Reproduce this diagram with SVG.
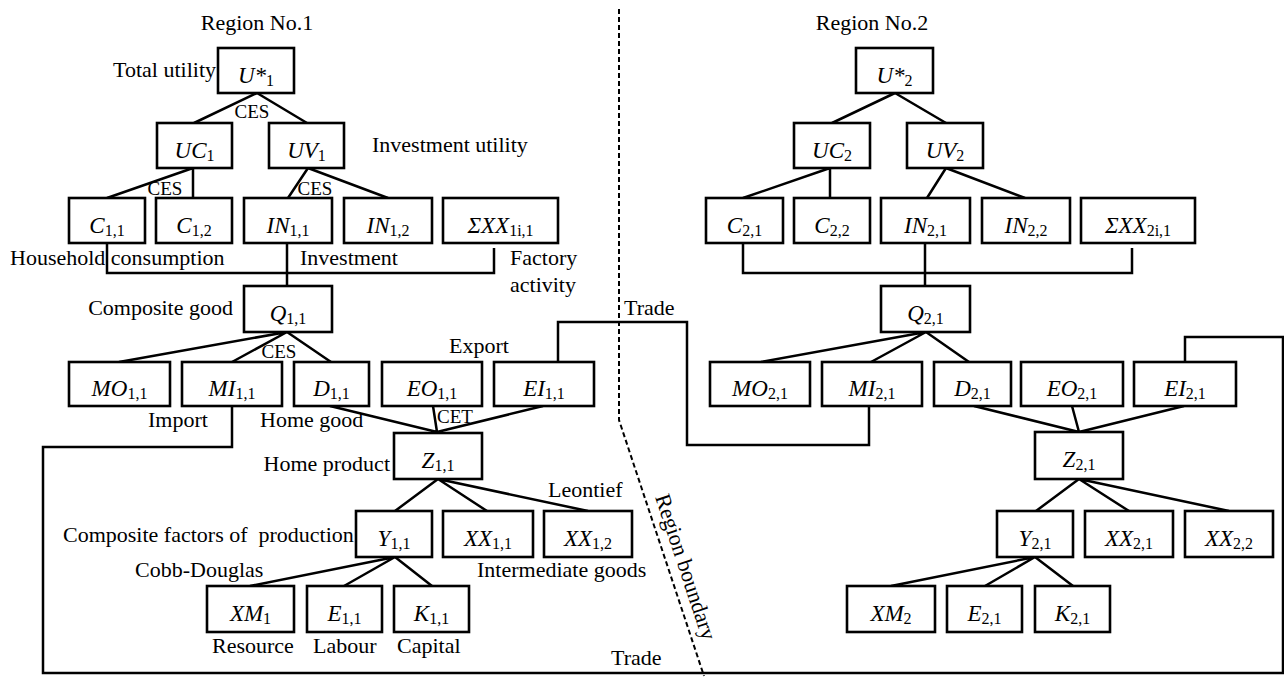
<svg xmlns="http://www.w3.org/2000/svg" width="1284" height="679" viewBox="0 0 1284 679">
<style>
.b{fill:#fff;stroke:#000;stroke-width:2.6}
.n{font-family:"Liberation Serif","Times New Roman",serif;font-size:23px;font-style:italic;text-anchor:middle;fill:#000}
.s{font-style:normal;font-size:16px}
.l{font-family:"Liberation Serif","Times New Roman",serif;font-size:22px;fill:#000}
.c{font-family:"Liberation Serif","Times New Roman",serif;font-size:19px;fill:#000}
.e{stroke:#000;stroke-width:2.5;fill:none}
.d{stroke:#000;stroke-width:2;fill:none;stroke-dasharray:5 3}
</style>
<rect width="1284" height="679" fill="#fff"/>
<g id="connectors">
<path class="e" d="M257,93L194,123M257,93L307,123M193,168L107,198M193,168V198M308,168L288,198M308,168L388,198M107,243V273H494V248M287,243V286M287,332L119,362M287,332L232,362M287,332L331,362M330,406L437,432M433,406L437,432M543,406L437,432M438,479L395,511M438,479L487,511M438,479L588,511M395,557L250,586M395,557L344,586M395,557L432,586"/>
<path class="e" d="M895,93L832,123M895,93L946,123M830,168L743,198M830,168V198M946,168L927,198M946,168L1025,198M743,243V273H1132V248M925,243V286M926,332L761,362M926,332L871,362M926,332L969,362M974,406L1079,432M1072,406L1079,432M1184,406L1079,432M1079,479L1036,511M1079,479L1129,511M1079,479L1229,511M1035,557L891,586M1035,557L985,586M1035,557L1073,586"/>
<path class="e" d="M232,406V447H43V673H1283V337H1185V362"/>
<path class="e" d="M558,362V322H687V445H869V406"/>
<path class="d" d="M619,9V420L704,676"/>
</g>
<g id="labels">
<text class="l" x="257" y="30" text-anchor="middle">Region No.1</text>
<text class="l" x="872" y="30" text-anchor="middle">Region No.2</text>
<text class="l" x="216" y="77" text-anchor="end">Total utility</text>
<text class="c" x="252" y="118" text-anchor="middle">CES</text>
<text class="l" x="372" y="152">Investment utility</text>
<text class="c" x="165" y="195" text-anchor="middle">CES</text>
<text class="c" x="315" y="195" text-anchor="middle">CES</text>
<text class="l" x="10" y="265">Household consumption</text>
<text class="l" x="300" y="265">Investment</text>
<text class="l" x="510" y="265">Factory</text>
<text class="l" x="510" y="292">activity</text>
<text class="l" x="233" y="315" text-anchor="end">Composite good</text>
<text class="c" x="279" y="358" text-anchor="middle">CES</text>
<text class="l" x="624" y="315">Trade</text>
<text class="l" x="449" y="353">Export</text>
<text class="l" x="148" y="427">Import</text>
<text class="l" x="260" y="427">Home good</text>
<text class="c" x="455" y="423" text-anchor="middle">CET</text>
<text class="l" x="390" y="471" text-anchor="end">Home product</text>
<text class="l" x="548" y="497">Leontief</text>
<text class="l" x="63" y="542" style="white-space:pre">Composite factors of  production</text>
<text class="l" x="135" y="577">Cobb-Douglas</text>
<text class="l" x="477" y="577">Intermediate goods</text>
<text class="l" x="212" y="653">Resource</text>
<text class="l" x="313" y="653">Labour</text>
<text class="l" x="397" y="653">Capital</text>
<text class="l" x="611" y="665">Trade</text>
<text class="l" transform="translate(655,497) rotate(71.7)">Region boundary</text>
</g>
<g id="U1"><rect class="b" x="218" y="48" width="76" height="45"/><text class="n" x="256" y="83">U*<tspan class="s" dy="3">1</tspan></text></g>
<g id="UC1"><rect class="b" x="157" y="123" width="75" height="45"/><text class="n" x="194.5" y="158">UC<tspan class="s" dy="3">1</tspan></text></g>
<g id="UV1"><rect class="b" x="269" y="123" width="75" height="45"/><text class="n" x="306.5" y="158">UV<tspan class="s" dy="3">1</tspan></text></g>
<g id="C11"><rect class="b" x="69" y="198" width="76" height="45"/><text class="n" x="107" y="233">C<tspan class="s" dy="3">1,1</tspan></text></g>
<g id="C12"><rect class="b" x="156" y="198" width="76" height="45"/><text class="n" x="194" y="233">C<tspan class="s" dy="3">1,2</tspan></text></g>
<g id="IN11"><rect class="b" x="244" y="198" width="88" height="45"/><text class="n" x="288" y="233">IN<tspan class="s" dy="3">1,1</tspan></text></g>
<g id="IN12"><rect class="b" x="344" y="198" width="88" height="45"/><text class="n" x="388" y="233">IN<tspan class="s" dy="3">1,2</tspan></text></g>
<g id="SXX1"><rect class="b" x="443" y="198" width="115" height="45"/><text class="n" x="500.5" y="233">ΣXX<tspan class="s" dy="3">1i,1</tspan></text></g>
<g id="Q11"><rect class="b" x="244" y="286" width="88" height="46"/><text class="n" x="288" y="321">Q<tspan class="s" dy="3">1,1</tspan></text></g>
<g id="MO11"><rect class="b" x="69" y="362" width="101" height="44"/><text class="n" x="119.5" y="396">MO<tspan class="s" dy="3">1,1</tspan></text></g>
<g id="MI11"><rect class="b" x="182" y="362" width="100" height="44"/><text class="n" x="232" y="396">MI<tspan class="s" dy="3">1,1</tspan></text></g>
<g id="D11"><rect class="b" x="294" y="362" width="75" height="44"/><text class="n" x="331.5" y="396">D<tspan class="s" dy="3">1,1</tspan></text></g>
<g id="EO11"><rect class="b" x="382" y="362" width="100" height="44"/><text class="n" x="432" y="396">EO<tspan class="s" dy="3">1,1</tspan></text></g>
<g id="EI11"><rect class="b" x="494" y="362" width="100" height="44"/><text class="n" x="544" y="396">EI<tspan class="s" dy="3">1,1</tspan></text></g>
<g id="Z11"><rect class="b" x="394" y="433" width="88" height="46"/><text class="n" x="438" y="468">Z<tspan class="s" dy="3">1,1</tspan></text></g>
<g id="Y11"><rect class="b" x="356" y="511" width="76" height="46"/><text class="n" x="394" y="546">Y<tspan class="s" dy="3">1,1</tspan></text></g>
<g id="XX11"><rect class="b" x="443" y="511" width="90" height="46"/><text class="n" x="488" y="546">XX<tspan class="s" dy="3">1,1</tspan></text></g>
<g id="XX12"><rect class="b" x="544" y="511" width="88" height="46"/><text class="n" x="588" y="546">XX<tspan class="s" dy="3">1,2</tspan></text></g>
<g id="XM1"><rect class="b" x="207" y="586" width="87" height="46"/><text class="n" x="250.5" y="621">XM<tspan class="s" dy="3">1</tspan></text></g>
<g id="E11"><rect class="b" x="307" y="586" width="75" height="46"/><text class="n" x="344.5" y="621">E<tspan class="s" dy="3">1,1</tspan></text></g>
<g id="K11"><rect class="b" x="394" y="586" width="75" height="46"/><text class="n" x="431.5" y="621">K<tspan class="s" dy="3">1,1</tspan></text></g>
<g id="U2"><rect class="b" x="856" y="48" width="77" height="45"/><text class="n" x="894.5" y="83">U*<tspan class="s" dy="3">2</tspan></text></g>
<g id="UC2"><rect class="b" x="794" y="123" width="76" height="45"/><text class="n" x="832" y="158">UC<tspan class="s" dy="3">2</tspan></text></g>
<g id="UV2"><rect class="b" x="907" y="123" width="76" height="45"/><text class="n" x="945" y="158">UV<tspan class="s" dy="3">2</tspan></text></g>
<g id="C21"><rect class="b" x="706" y="198" width="77" height="45"/><text class="n" x="744.5" y="233">C<tspan class="s" dy="3">2,1</tspan></text></g>
<g id="C22"><rect class="b" x="794" y="198" width="76" height="45"/><text class="n" x="832" y="233">C<tspan class="s" dy="3">2,2</tspan></text></g>
<g id="IN21"><rect class="b" x="881" y="198" width="89" height="45"/><text class="n" x="925.5" y="233">IN<tspan class="s" dy="3">2,1</tspan></text></g>
<g id="IN22"><rect class="b" x="982" y="198" width="88" height="45"/><text class="n" x="1026" y="233">IN<tspan class="s" dy="3">2,2</tspan></text></g>
<g id="SXX2"><rect class="b" x="1081" y="198" width="114" height="45"/><text class="n" x="1138" y="233">ΣXX<tspan class="s" dy="3">2i,1</tspan></text></g>
<g id="Q21"><rect class="b" x="881" y="286" width="89" height="46"/><text class="n" x="925.5" y="321">Q<tspan class="s" dy="3">2,1</tspan></text></g>
<g id="MO21"><rect class="b" x="710" y="362" width="100" height="44"/><text class="n" x="760" y="396">MO<tspan class="s" dy="3">2,1</tspan></text></g>
<g id="MI21"><rect class="b" x="822" y="362" width="100" height="44"/><text class="n" x="872" y="396">MI<tspan class="s" dy="3">2,1</tspan></text></g>
<g id="D21"><rect class="b" x="934" y="362" width="77" height="44"/><text class="n" x="972.5" y="396">D<tspan class="s" dy="3">2,1</tspan></text></g>
<g id="EO21"><rect class="b" x="1021" y="362" width="102" height="44"/><text class="n" x="1072" y="396">EO<tspan class="s" dy="3">2,1</tspan></text></g>
<g id="EI21"><rect class="b" x="1134" y="362" width="102" height="44"/><text class="n" x="1185" y="396">EI<tspan class="s" dy="3">2,1</tspan></text></g>
<g id="Z21"><rect class="b" x="1035" y="432" width="88" height="47"/><text class="n" x="1079" y="467">Z<tspan class="s" dy="3">2,1</tspan></text></g>
<g id="Y21"><rect class="b" x="997" y="511" width="76" height="46"/><text class="n" x="1035" y="546">Y<tspan class="s" dy="3">2,1</tspan></text></g>
<g id="XX21"><rect class="b" x="1085" y="511" width="88" height="46"/><text class="n" x="1129" y="546">XX<tspan class="s" dy="3">2,1</tspan></text></g>
<g id="XX22"><rect class="b" x="1185" y="511" width="88" height="46"/><text class="n" x="1229" y="546">XX<tspan class="s" dy="3">2,2</tspan></text></g>
<g id="XM2"><rect class="b" x="847" y="586" width="88" height="46"/><text class="n" x="891" y="621">XM<tspan class="s" dy="3">2</tspan></text></g>
<g id="E21"><rect class="b" x="947" y="586" width="75" height="46"/><text class="n" x="984.5" y="621">E<tspan class="s" dy="3">2,1</tspan></text></g>
<g id="K21"><rect class="b" x="1035" y="586" width="75" height="46"/><text class="n" x="1072.5" y="621">K<tspan class="s" dy="3">2,1</tspan></text></g>
</svg>
